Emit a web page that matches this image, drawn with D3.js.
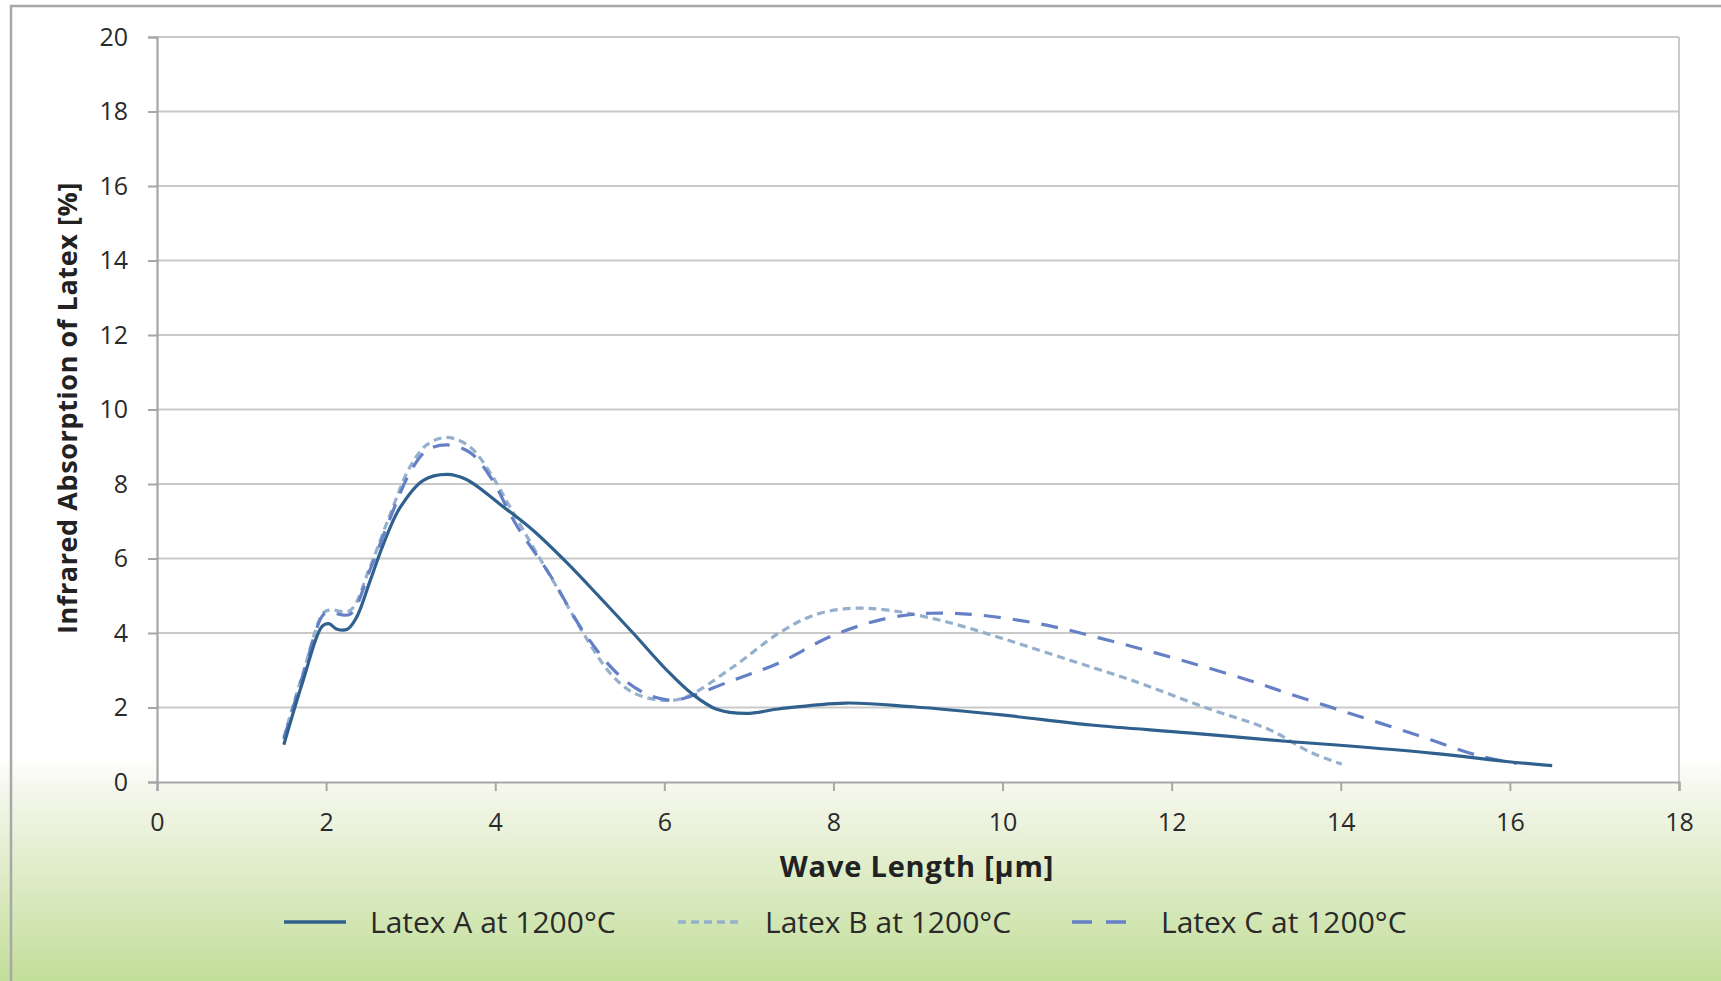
<!DOCTYPE html>
<html>
<head>
<meta charset="utf-8">
<script src="https://cdn.jsdelivr.net/npm/d3@7"></script>
<style>
  html, body { margin: 0; padding: 0; background: #ffffff; }
  svg { display: block; }
  text { font-family: "Open Sans", "DejaVu Sans", sans-serif; }
</style>
</head>
<body>
<svg id="chart" width="1721" height="981"></svg>
<script>
// ---- data ----
const xTicks = [0, 2, 4, 6, 8, 10, 12, 14, 16, 18];
const yTicks = [0, 2, 4, 6, 8, 10, 12, 14, 16, 18, 20];

const seriesNames = ["Latex A at 1200°C", "Latex B at 1200°C", "Latex C at 1200°C"];

const latexA = [
  [1.5, 1.0], [1.73, 2.74], [1.95, 4.17], [2.03, 4.25], [2.13, 4.1], [2.25, 4.1],
  [2.36, 4.42], [2.52, 5.4], [2.68, 6.4], [2.87, 7.35], [3.15, 8.1], [3.43, 8.26],
  [3.66, 8.12], [4.06, 7.45], [4.45, 6.75], [4.85, 5.88], [5.24, 4.95], [5.63, 4.0],
  [6.03, 3.0], [6.32, 2.38], [6.62, 1.95], [6.97, 1.84], [7.35, 1.96], [8.14, 2.12],
  [8.94, 2.02], [9.99, 1.8], [11.05, 1.53], [12.2, 1.32], [13.42, 1.08], [13.91, 1.0],
  [15.1, 0.77], [15.96, 0.55], [16.5, 0.44]
];
const latexB = [
  [1.5, 1.2], [1.73, 2.95], [1.97, 4.55], [2.05, 4.62], [2.28, 4.6], [2.52, 5.78],
  [2.76, 7.2], [2.99, 8.45], [3.19, 9.05], [3.43, 9.25], [3.7, 9.0], [3.94, 8.3],
  [4.17, 7.4], [4.45, 6.3], [4.77, 5.07], [5.04, 4.0], [5.36, 2.92], [5.63, 2.4],
  [5.95, 2.2], [6.22, 2.25], [6.82, 3.1], [7.35, 3.99], [7.77, 4.48], [8.2, 4.66],
  [8.62, 4.62], [9.25, 4.35], [9.99, 3.86], [10.78, 3.28], [11.58, 2.69], [12.37, 2.02],
  [13.16, 1.4], [13.64, 0.8], [14.01, 0.48]
];
const latexC = [
  [1.5, 1.15], [1.73, 2.9], [1.97, 4.5], [2.05, 4.55], [2.28, 4.5], [2.52, 5.7],
  [2.76, 7.1], [2.99, 8.3], [3.19, 8.9], [3.43, 9.05], [3.7, 8.85], [3.94, 8.2],
  [4.25, 6.9], [4.65, 5.55], [5.04, 4.05], [5.44, 2.92], [5.77, 2.38], [6.05, 2.2],
  [6.19, 2.22], [6.82, 2.74], [7.35, 3.19], [7.98, 3.92], [8.62, 4.39], [9.15, 4.53],
  [9.73, 4.48], [10.52, 4.21], [11.31, 3.77], [12.1, 3.28], [12.9, 2.74], [13.35, 2.4],
  [14.11, 1.84], [14.9, 1.26], [15.61, 0.72], [16.08, 0.5]
];

// ---- styles ----
const colors = ["#30608e", "#95b0cc", "#6580c6"];
const dashes = [null, "8,5", "17,12"];

const W = 1721, H = 981;
const margin = { left: 157, right: W - 1679, top: 37, bottom: H - 782 };

const svg = d3.select("#chart");

// background gradient
const defs = svg.append("defs");
const grad = defs.append("linearGradient")
  .attr("id", "bg").attr("x1", 0).attr("y1", 0).attr("x2", 0).attr("y2", 1);
grad.append("stop").attr("offset", "0").attr("stop-color", "#ffffff");
grad.append("stop").attr("offset", "0.77").attr("stop-color", "#ffffff");
grad.append("stop").attr("offset", "0.81").attr("stop-color", "#f3f6e9");
grad.append("stop").attr("offset", "0.9").attr("stop-color", "#dcebc4");
grad.append("stop").attr("offset", "1").attr("stop-color", "#c3de9a");
svg.append("rect").attr("x", 0).attr("y", 0).attr("width", W).attr("height", H)
  .attr("fill", "url(#bg)");

// outer frame
svg.append("rect").attr("x", 11).attr("y", 6).attr("width", W + 50).attr("height", H + 50)
  .attr("fill", "none").attr("stroke", "#a8a8a8").attr("stroke-width", 2.5);

const x = d3.scaleLinear().domain([0, 18]).range([margin.left, W - margin.right]);
const y = d3.scaleLinear().domain([0, 20]).range([H - margin.bottom, margin.top]);

// plot background
svg.append("rect")
  .attr("x", x(0)).attr("y", y(20))
  .attr("width", x(18) - x(0)).attr("height", y(0) - y(20))
  .attr("fill", "#ffffff");

// gridlines
svg.append("g").selectAll("line").data(yTicks.filter(d => d > 0)).join("line")
  .attr("x1", x(0)).attr("x2", x(18))
  .attr("y1", d => y(d)).attr("y2", d => y(d))
  .attr("stroke", "#c9c9c9").attr("stroke-width", 2.2);

// right border of plot
svg.append("line")
  .attr("x1", x(18)).attr("x2", x(18)).attr("y1", y(20)).attr("y2", y(0))
  .attr("stroke", "#c4c4c4").attr("stroke-width", 1.8);

// y axis
const yAxis = svg.append("g")
  .attr("transform", `translate(${x(0)},0)`)
  .call(d3.axisLeft(y).tickValues(yTicks).tickSize(9).tickPadding(20));
yAxis.select(".domain").attr("stroke", "#a6a6a6").attr("stroke-width", 2.2);
yAxis.selectAll(".tick line").attr("stroke", "#a6a6a6").attr("stroke-width", 2);
yAxis.selectAll(".tick text")
  .attr("font-size", 25).attr("fill", "#2a2a2a")
  .attr("font-family", "'Open Sans', sans-serif");

// x axis
const xAxis = svg.append("g")
  .attr("transform", `translate(0,${y(0)})`)
  .call(d3.axisBottom(x).tickValues(xTicks).tickSize(9).tickPadding(22));
xAxis.select(".domain").attr("stroke", "#a6a6a6").attr("stroke-width", 2.2);
xAxis.selectAll(".tick line").attr("stroke", "#a6a6a6").attr("stroke-width", 2);
xAxis.selectAll(".tick text")
  .attr("font-size", 25).attr("fill", "#2a2a2a")
  .attr("font-family", "'Open Sans', sans-serif");

// axis titles
svg.append("text")
  .attr("transform", `translate(77,408) rotate(-90)`)
  .attr("text-anchor", "middle")
  .attr("font-size", 27).attr("font-weight", "bold").attr("fill", "#222")
  .attr("letter-spacing", 0.6)
  .text("Infrared Absorption of Latex [%]");

svg.append("text")
  .attr("x", 917).attr("y", 877)
  .attr("text-anchor", "middle")
  .attr("font-size", 29).attr("font-weight", "bold").attr("fill", "#222")
  .attr("letter-spacing", 0.8)
  .text("Wave Length [µm]");

// lines
const line = d3.line().x(d => x(d[0])).y(d => y(d[1])).curve(d3.curveCatmullRom.alpha(0.5));
const allSeries = [latexA, latexB, latexC];
[1, 2, 0].forEach(i => {
  svg.append("path")
    .datum(allSeries[i])
    .attr("d", line)
    .attr("fill", "none")
    .attr("stroke", colors[i])
    .attr("stroke-width", 3.2)
    .attr("stroke-linejoin", "round")
    .attr("stroke-dasharray", dashes[i]);
});

// legend
const legendItems = [
  { lx: 284, tx: 370 },
  { lx: 678, tx: 765 },
  { lx: 1072, tx: 1161 }
];
const legY = 922;
legendItems.forEach((it, i) => {
  svg.append("line")
    .attr("x1", it.lx).attr("x2", it.lx + (i === 2 ? 54 : 62))
    .attr("y1", legY).attr("y2", legY)
    .attr("stroke", colors[i]).attr("stroke-width", 3.6)
    .attr("stroke-dasharray", i === 2 ? "20,14" : dashes[i]);
  svg.append("text")
    .attr("x", it.tx).attr("y", legY + 11)
    .attr("font-size", 30).attr("fill", "#2a2a2a")
    .text(seriesNames[i]);
});
</script>
</body>
</html>
